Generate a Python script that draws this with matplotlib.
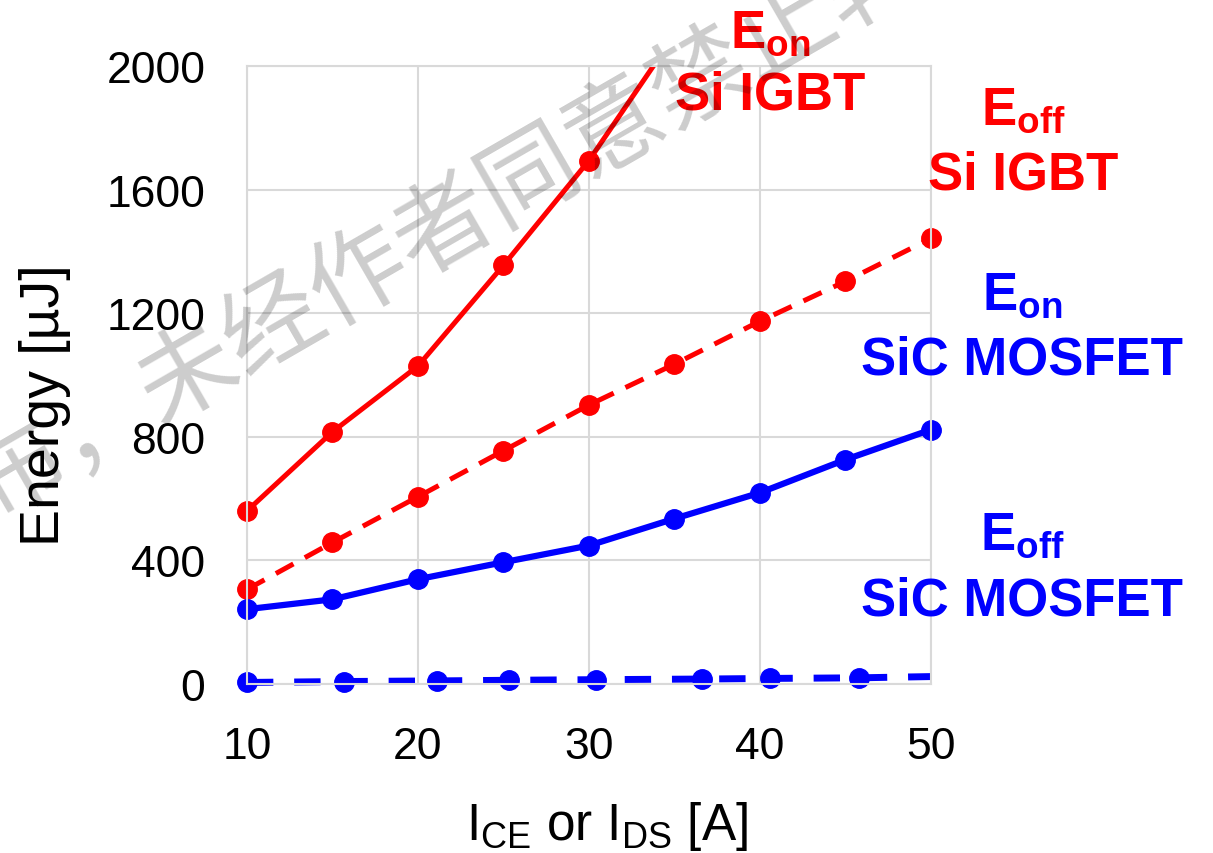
import matplotlib
matplotlib.use("Agg")
import matplotlib.pyplot as plt
from matplotlib.transforms import Bbox, TransformedBbox

plt.rcParams['font.family'] = ['Liberation Sans', 'DejaVu Sans']
plt.rcParams['mathtext.fontset'] = 'custom'
plt.rcParams['mathtext.rm'] = 'Liberation Sans'
plt.rcParams['mathtext.bf'] = 'Liberation Sans:bold'

# switching energy vs current
current = [10, 15, 20, 25, 30, 35, 40, 45, 50]
eon_igbt = [560, 816, 1029, 1355, 1694, 2100]
eoff_igbt = [306, 458, 606, 755, 903, 1035, 1174, 1303, 1442]
eon_sic = [242, 274, 339, 394, 448, 535, 619, 726, 823]
# the SiC turn-off points were logged at slightly different currents
current_sic_off = [10, 15.7, 21.1, 25.3, 30.4, 36.6, 40.6, 45.8, 50]
eoff_sic = [5, 8, 10, 12, 14, 16, 18, 20, 24]

y_ticks = [0, 400, 800, 1200, 1600, 2000]
x_ticks = [10, 20, 30, 40, 50]

RED = '#ff0000'
BLUE = '#0000ff'
GRID = '#d9d9d9'


def main():
    fig = plt.figure(figsize=(12.13, 8.54), dpi=100)
    ax = fig.add_axes([0.2036, 0.1979, 0.5639, 0.7237])
    ax.set_xlim(10, 50)
    ax.set_ylim(0, 2000)
    ax.set_xticks(x_ticks)
    ax.set_yticks(y_ticks)
    ax.tick_params(axis='both', length=0, labelsize=32)
    ax.tick_params(axis='x', pad=30)
    ax.tick_params(axis='y', pad=30)
    ax.grid(color=GRID, linewidth=1.5)
    ax.set_axisbelow(True)
    for s in ax.spines.values():
        s.set_color(GRID)
        s.set_linewidth(1.5)

    # let edge markers spill sideways, but cut lines at the top
    clip = TransformedBbox(Bbox([[-0.1, -0.1], [1.1, 1.0]]), ax.transAxes)

    lines = []
    lines += ax.plot(current[:len(eon_igbt)], eon_igbt, color=RED, lw=3.6,
                     marker='o', ms=14)
    lines += ax.plot(current, eoff_igbt, color=RED, lw=3.6, marker='o', ms=14,
                     dashes=(4, 2.6))
    lines += ax.plot(current, eon_sic, color=BLUE, lw=4.5, marker='o', ms=14)
    lines += ax.plot(current_sic_off, eoff_sic, color=BLUE, lw=5, marker='o',
                     ms=14, markevery=slice(0, 8), dashes=(3.8, 3.0))
    for ln in lines:
        ln.set_clip_box(clip)

    W, H = 1213, 854

    def label(x, y1, y2, sub, name, color):
        fig.text(x / W, 1 - y1 / H, r'$\mathbf{E}_{\mathbf{%s}}$' % sub,
                 color=color, fontsize=38, ha='center', va='baseline')
        fig.text(x / W, 1 - y2 / H, name, color=color, fontsize=38,
                 fontweight='bold', ha='center', va='baseline')

    label(770, 48, 110, 'on', 'Si IGBT', RED)
    label(1023, 125, 190, 'off', 'Si IGBT', RED)
    label(1022, 310, 375, 'on', 'SiC MOSFET', BLUE)
    label(1022, 550, 615, 'off', 'SiC MOSFET', BLUE)

    fig.text(45 / W, 1 - 405 / H, 'Energy [µJ]', rotation=90, fontsize=40,
             ha='center', va='center')
    fig.text(607 / W, 1 - 840 / H, r'I$_\mathregular{CE}$ or I$_\mathregular{DS}$ [A]',
             fontsize=37, ha='center', va='baseline')

    fig.text(488 / W, 1 - 203 / H, '布，未经作者同意禁止转载', rotation=30,
             rotation_mode='anchor', fontsize=71, family=['Noto Sans CJK SC'],
             color='black', alpha=0.2, ha='center', va='center', zorder=10)

    fig.savefig('out.png', dpi=100)


if __name__ == "__main__":
    main()
